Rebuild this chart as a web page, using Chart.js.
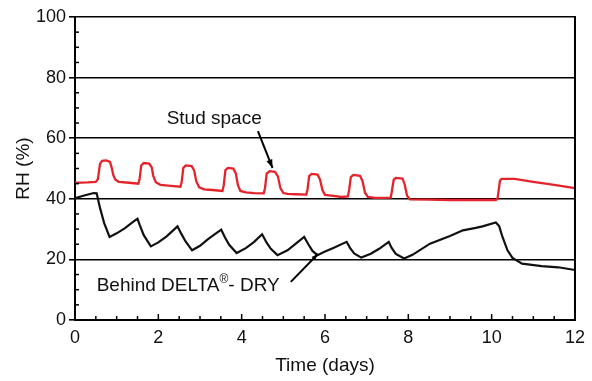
<!DOCTYPE html>
<html>
<head>
<meta charset="utf-8">
<script src="https://cdn.jsdelivr.net/npm/chart.js@4.4.1/dist/chart.umd.min.js"></script>
<style>
  html, body { margin: 0; padding: 0; background: #fff; }
  #wrap { width: 592px; height: 381px; position: relative; }
</style>
</head>
<body>
<div id="wrap"><canvas id="c" width="592" height="381"></canvas></div>
<script>
// ---- Data ----
const studDays = [0, 0.3, 0.5, 0.55, 0.6, 0.65, 0.75, 0.84, 0.88, 0.92, 0.97, 1.05, 1.3, 1.52,
  1.55, 1.59, 1.65, 1.78, 1.84, 1.88, 1.94, 2.05, 2.3, 2.53,
  2.56, 2.6, 2.66, 2.8, 2.86, 2.91, 2.98, 3.1, 3.3, 3.54,
  3.57, 3.61, 3.67, 3.8, 3.86, 3.91, 3.97, 4.1, 4.3, 4.53,
  4.56, 4.6, 4.67, 4.8, 4.87, 4.93, 5.0, 5.1, 5.3, 5.55,
  5.58, 5.62, 5.68, 5.82, 5.88, 5.94, 6.0, 6.2, 6.4, 6.55,
  6.58, 6.62, 6.68, 6.84, 6.9, 6.96, 7.03, 7.2, 7.4, 7.58,
  7.61, 7.65, 7.7, 7.86, 7.91, 7.97, 8.04, 8.5, 9.0, 9.5, 10.1, 10.14,
  10.2, 10.24, 10.55, 11.0, 11.5, 12.0];
const studRH = [45.3, 45.4, 45.6, 46.5, 51.5, 52.5, 52.7, 52.2, 50.3, 47.8, 46.3, 45.6, 45.3, 45.0,
  46.5, 51.0, 51.8, 51.6, 50.4, 47.5, 45.5, 44.6, 44.3, 44.0,
  45.5, 50.2, 51.0, 50.8, 49.4, 45.8, 43.8, 43.1, 42.9, 42.6,
  44.5, 49.5, 50.2, 50.0, 48.4, 44.5, 42.6, 42.1, 41.9, 41.8,
  43.5, 48.3, 49.1, 48.9, 47.4, 43.5, 41.9, 41.6, 41.5, 41.4,
  43.0, 47.5, 48.2, 48.0, 46.4, 42.8, 41.3, 41.0, 40.6, 40.8,
  43.0, 47.2, 47.9, 47.6, 45.9, 42.0, 40.6, 40.3, 40.3, 40.4,
  43.0, 46.3, 46.9, 46.7, 44.9, 41.0, 39.8, 39.7, 39.6, 39.6, 39.6, 40.0,
  46.0, 46.6, 46.6, 45.6, 44.6, 43.5];

const behindDays = [0, 0.2, 0.45, 0.52, 0.6, 0.7, 0.83, 1.0, 1.2, 1.4, 1.5, 1.55, 1.65, 1.82,
  2.0, 2.2, 2.46, 2.55, 2.65, 2.81, 3.0, 3.2, 3.51, 3.6, 3.7, 3.88,
  4.1, 4.3, 4.49, 4.6, 4.7, 4.86, 5.1, 5.3, 5.5, 5.6, 5.7, 5.82,
  6.0, 6.2, 6.52, 6.6, 6.7, 6.87, 7.1, 7.3, 7.53, 7.6, 7.7, 7.9,
  8.1, 8.52, 9.0, 9.31, 9.62, 9.78, 10.1, 10.18, 10.26, 10.38, 10.5, 10.73, 11.2, 11.6, 12.0];
const behindRH = [40.2, 41.0, 41.9, 41.8, 37.0, 32.0, 27.4, 28.6, 30.3, 32.5, 33.4, 31.5, 28.0, 24.3,
  25.6, 27.6, 30.9, 28.5, 26.0, 23.0, 24.5, 26.8, 29.8, 27.2, 24.8, 22.1,
  23.7, 25.8, 28.3, 25.5, 23.5, 21.4, 23.0, 25.2, 27.4, 25.0, 22.8, 21.4,
  22.6, 23.8, 25.8, 23.8, 22.0, 20.6, 21.9, 23.5, 25.8, 23.8, 21.8, 20.3,
  21.5, 25.2, 27.7, 29.6, 30.4, 30.9, 32.2, 31.0, 27.4, 23.0, 20.5, 18.6, 17.8, 17.4, 16.5];

const seriesNames = ['Stud space', 'Behind DELTA®- DRY'];
const xTickValues = [0, 2, 4, 6, 8, 10, 12];
const yTickValues = [0, 20, 40, 60, 80, 100];
const xTitle = 'Time (days)';
const yTitle = 'RH (%)';

// annotation anchors in data units
const studLabelAt = [3.34, 66.4];
const studArrow = [[4.39, 62.3], [4.74, 50.2]];
const behindLabelAt = [0.52, 11.2];
const behindArrow = [[5.18, 12.6], [5.83, 21.8]];

const FONT = "'Liberation Sans', Arial, Helvetica, sans-serif";

function toXY(xs, ys) { return xs.map((x, i) => ({ x: x, y: ys[i] })); }

function arrow(ctx, x1, y1, x2, y2, head) {
  ctx.beginPath(); ctx.moveTo(x1, y1); ctx.lineTo(x2, y2); ctx.stroke();
  const a = Math.atan2(y2 - y1, x2 - x1);
  ctx.beginPath();
  ctx.moveTo(x2, y2);
  ctx.lineTo(x2 - head * Math.cos(a - 0.35), y2 - head * Math.sin(a - 0.35));
  ctx.lineTo(x2 - head * Math.cos(a + 0.35), y2 - head * Math.sin(a + 0.35));
  ctx.closePath(); ctx.fill();
}

const decor = {
  id: 'decor',
  afterDatasetsDraw(chart) {
    const ctx = chart.ctx, xs = chart.scales.x, ys = chart.scales.y;
    const top = ys.getPixelForValue(100), bot = ys.getPixelForValue(0);
    const left = xs.getPixelForValue(0), right = xs.getPixelForValue(12);
    ctx.save();
    ctx.strokeStyle = '#000'; ctx.fillStyle = '#000';
    // right border
    ctx.lineWidth = 2;
    ctx.beginPath(); ctx.moveTo(right, top - 1); ctx.lineTo(right, bot + 1); ctx.stroke();
    // inward ticks on x axis
    ctx.lineWidth = 1.5;
    for (let v = 0.5; v < 12; v += 0.5) {
      const p = xs.getPixelForValue(v);
      const len = (Math.abs(v % 2) < 1e-6) ? 6 : 4;
      ctx.beginPath(); ctx.moveTo(p, bot); ctx.lineTo(p, bot - len); ctx.stroke();
    }
    // inward minor ticks on y axis
    for (let v = 5; v < 100; v += 5) {
      if (v % 20 === 0) continue;
      const p = ys.getPixelForValue(v);
      ctx.beginPath(); ctx.moveTo(left, p); ctx.lineTo(left + 4, p); ctx.stroke();
    }
    // annotations
    ctx.font = '19px ' + FONT;
    ctx.textBaseline = 'middle';
    ctx.textAlign = 'center';
    ctx.fillStyle = '#111';
    ctx.fillText(seriesNames[0], xs.getPixelForValue(studLabelAt[0]), ys.getPixelForValue(studLabelAt[1]));
    ctx.lineWidth = 2; ctx.fillStyle = '#000';
    arrow(ctx, xs.getPixelForValue(studArrow[0][0]), ys.getPixelForValue(studArrow[0][1]),
      xs.getPixelForValue(studArrow[1][0]), ys.getPixelForValue(studArrow[1][1]), 9);
    // Behind DELTA®- DRY with superscript ®
    ctx.textAlign = 'left';
    ctx.fillStyle = '#111';
    let bx = xs.getPixelForValue(behindLabelAt[0]);
    const by = ys.getPixelForValue(behindLabelAt[1]);
    const parts = seriesNames[1].split('®');
    ctx.font = '19px ' + FONT;
    ctx.fillText(parts[0], bx, by); bx += ctx.measureText(parts[0]).width;
    ctx.font = '12px ' + FONT;
    ctx.fillText('®', bx, by - 6); bx += ctx.measureText('®').width;
    ctx.font = '19px ' + FONT;
    ctx.fillText(parts[1], bx, by);
    ctx.lineWidth = 2; ctx.fillStyle = '#000';
    arrow(ctx, xs.getPixelForValue(behindArrow[0][0]), ys.getPixelForValue(behindArrow[0][1]),
      xs.getPixelForValue(behindArrow[1][0]), ys.getPixelForValue(behindArrow[1][1]), 7);
    ctx.restore();
  }
};

new Chart(document.getElementById('c'), {
  type: 'line',
  data: {
    datasets: [
      { label: seriesNames[0], data: toXY(studDays, studRH), borderColor: '#e4232b',
        borderWidth: 2.3, pointRadius: 0, tension: 0, fill: false },
      { label: seriesNames[1], data: toXY(behindDays, behindRH), borderColor: '#111',
        borderWidth: 2.2, pointRadius: 0, tension: 0, fill: false }
    ]
  },
  options: {
    responsive: false,
    animation: false,
    devicePixelRatio: 1,
    layout: { padding: { top: 17, right: 11, left: 0, bottom: 0 } },
    plugins: { legend: { display: false }, tooltip: { enabled: false } },
    scales: {
      x: {
        type: 'linear', min: 0, max: 12,
        afterBuildTicks(s) { s.ticks = xTickValues.map(v => ({ value: v })); },
        afterFit(s) { s.height = 61; },
        ticks: { font: { size: 18, family: FONT }, color: '#111', padding: 7, maxRotation: 0 },
        grid: { display: false, drawTicks: false, tickLength: 0 },
        border: { display: true, color: '#000', width: 2 },
        title: { display: true, text: xTitle, font: { size: 19, family: FONT }, color: '#111',
          padding: { top: 0, bottom: 4 } }
      },
      y: {
        min: 0, max: 100,
        afterBuildTicks(s) { s.ticks = yTickValues.map(v => ({ value: v })); },
        afterFit(s) { s.width = 75; },
        ticks: { font: { size: 18, family: FONT }, color: '#111', padding: 3 },
        grid: { color: '#000', lineWidth: 1.6, drawTicks: true, tickLength: 6 },
        border: { display: true, color: '#000', width: 2 },
        title: { display: true, text: yTitle, font: { size: 19, family: FONT }, color: '#111',
          padding: { top: 12, bottom: 0 } }
      }
    }
  },
  plugins: [decor]
});
</script>
</body>
</html>
